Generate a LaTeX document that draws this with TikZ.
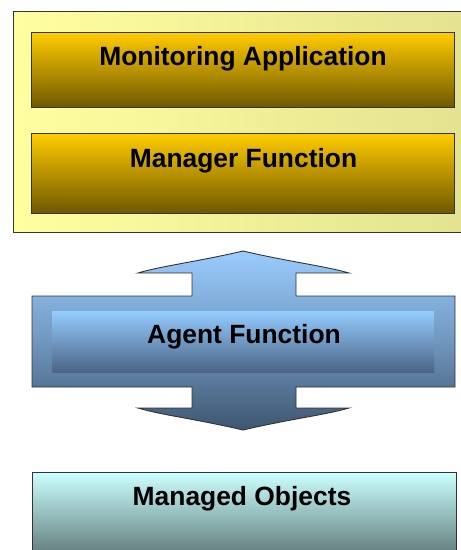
\documentclass[tikz,border=0pt]{standalone}
\usepackage{fontspec}
\setmainfont{Liberation Sans}
\begin{document}
\begin{tikzpicture}[x=1pt,y=-1pt,
  edge/.style={draw=black!80,line width=0.9pt},
  goldbox/.style={edge,rectangle,inner sep=0pt,top color=gold1,bottom color=gold2,middle color=gold3},
  lbl/.style={anchor=base,font=\fontsize{26.4}{30}\selectfont\bfseries,text=black,inner sep=0pt}]
\definecolor{gold1}{HTML}{FFCC00}
\definecolor{gold2}{HTML}{6E5800}
\definecolor{gold3}{HTML}{B89200}
\definecolor{pale1}{HTML}{FFFFA0}
\definecolor{pale2}{HTML}{E2E290}
\definecolor{blue1}{HTML}{9ACCFF}
\definecolor{blue2}{HTML}{3E5670}
\definecolor{inner1}{HTML}{94CCFF}
\definecolor{inner2}{HTML}{4C6484}
\definecolor{cyan1}{HTML}{CCFFFF}
\definecolor{cyan2}{HTML}{587070}
\useasboundingbox (0,0) rectangle (461,550);
\clip (0,0) rectangle (461,550);

% outer panel holding the manager side
\node[edge,rectangle,inner sep=0pt,left color=pale1,right color=pale2,
      minimum width=460pt,minimum height=221pt,anchor=north west] (panel) at (13,11) {};

% two gold layers
\node[goldbox,minimum width=423pt,minimum height=75pt,anchor=north west] (mon) at (31,32) {};
\node[lbl] at (243,65) {Monitoring Application};
\node[goldbox,minimum width=423pt,minimum height=80pt,anchor=north west] (mgr) at (31,133) {};
\node[lbl] at (243.5,167) {Manager Function};

% double-headed block arrow with slightly concave head sides
\path[edge,top color=blue1,bottom color=blue2,middle color=blue1!55!blue2]
  (243,251) .. controls (290,262) and (325,266) .. (349,273) -- (296,273) -- (296,296)
  -- (455,296) -- (455,387) -- (296,387) -- (296,408) -- (349,408)
  .. controls (325,415) and (290,419) .. (243,430)
  .. controls (196,419) and (161,415) .. (138,408) -- (192,408)
  -- (192,387) -- (32,387) -- (32,296) -- (192,296) -- (192,273) -- (138,273)
  .. controls (161,266) and (196,262) .. (243,251) -- cycle;
\node[rectangle,inner sep=0pt,top color=inner1,bottom color=inner2,
      minimum width=382pt,minimum height=61pt,anchor=north west] (agent) at (52,311) {};
\node[lbl] at (244,343) {Agent Function};

% managed objects layer
\node[edge,rectangle,inner sep=0pt,top color=cyan1,bottom color=cyan2,
      minimum width=424pt,minimum height=90pt,anchor=north west] (objs) at (32,472) {};
\node[lbl] at (242,505) {Managed Objects};
\end{tikzpicture}
\end{document}
